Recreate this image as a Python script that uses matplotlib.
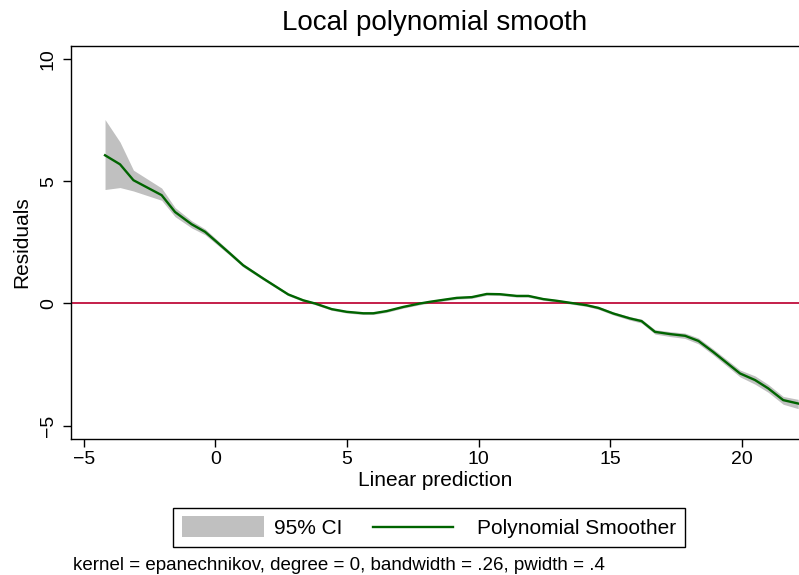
import matplotlib
matplotlib.use("Agg")
import matplotlib.pyplot as plt
from matplotlib.patches import Patch, Rectangle
from matplotlib.lines import Line2D
from matplotlib.legend_handler import HandlerPatch

# Polinom düzleştirici değerleri
x_pred = [-4.19, -3.62, -3.11, -2.04, -1.53, -0.90, -0.39, 0.05, 0.56, 1.06,
          1.82, 2.77, 3.34, 3.79, 4.42, 4.99, 5.62, 6.00, 6.51, 7.14,
          7.77, 8.15, 8.72, 9.17, 9.74, 10.31, 10.81, 11.45, 11.89, 12.46,
          12.97, 13.47, 14.10, 14.55, 15.12, 15.75, 16.19, 16.70, 17.27, 17.84,
          18.35, 18.91, 19.93, 20.50, 21.00, 21.57, 22.14]
smooth = [6.06, 5.69, 5.04, 4.43, 3.74, 3.24, 2.93, 2.52, 2.04, 1.56,
          1.02, 0.37, 0.13, 0.00, -0.23, -0.34, -0.40, -0.40, -0.31, -0.14,
          0.00, 0.07, 0.16, 0.23, 0.26, 0.39, 0.38, 0.31, 0.31, 0.18,
          0.11, 0.03, -0.07, -0.18, -0.41, -0.61, -0.72, -1.16, -1.25, -1.32,
          -1.53, -1.98, -2.86, -3.13, -3.47, -3.95, -4.09]
ci_lo = [4.66, 4.74, 4.60, 4.22, 3.55, 3.09, 2.81, 2.42, 1.96, 1.49,
         0.96, 0.32, 0.08, -0.05, -0.28, -0.39, -0.45, -0.45, -0.36, -0.19,
         -0.05, 0.02, 0.11, 0.18, 0.21, 0.34, 0.33, 0.26, 0.26, 0.13,
         0.06, -0.02, -0.12, -0.24, -0.47, -0.68, -0.80, -1.25, -1.35, -1.43,
         -1.65, -2.10, -3.00, -3.30, -3.63, -4.12, -4.30]
ci_hi = [7.52, 6.60, 5.45, 4.72, 3.92, 3.38, 3.05, 2.62, 2.12, 1.63,
         1.08, 0.42, 0.18, 0.05, -0.18, -0.29, -0.35, -0.35, -0.26, -0.09,
         0.05, 0.12, 0.21, 0.28, 0.31, 0.44, 0.43, 0.36, 0.36, 0.23,
         0.16, 0.08, -0.02, -0.12, -0.35, -0.54, -0.64, -1.07, -1.15, -1.21,
         -1.41, -1.86, -2.72, -2.96, -3.31, -3.80, -3.92]

x_ticks = [-5, 0, 5, 10, 15, 20]
y_ticks = [-5, 0, 5, 10]

CI_RENK = "#c0c0c0"
CIZGI_RENK = "#006400"
SIFIR_RENK = "#c41e4a"

plt.rcParams["font.family"] = ["Liberation Sans", "DejaVu Sans"]

W, H = 799, 575
fig = plt.figure(figsize=(W / 100, H / 100), dpi=100)
fig.patch.set_facecolor("white")

# Eksen alanı (piksel -> oran)
sol, sag, ust, alt = 70.7, 799, 45.7, 439
ax = fig.add_axes([sol / W, 1 - alt / H, (sag - sol) / W, (alt - ust) / H])

ax.fill_between(x_pred, ci_lo, ci_hi, color=CI_RENK, linewidth=0, zorder=1)
ax.axhline(0, color=SIFIR_RENK, linewidth=1.4, zorder=2)
ax.plot(x_pred, smooth, color=CIZGI_RENK, linewidth=1.7, zorder=3)

ax.set_xlim(-5.494, 22.17)
ax.set_ylim(-5.54, 10.54)
ax.set_xticks(x_ticks)
ax.set_yticks(y_ticks)
ax.tick_params(axis="both", direction="out", length=6, width=1, labelsize=14, colors="black")
ax.tick_params(axis="x", pad=3)
ax.tick_params(axis="y", pad=4)
for lbl in ax.get_yticklabels():
    lbl.set_rotation(90)
    lbl.set_va("center")

ax.spines["right"].set_visible(False)
for s in ("left", "top", "bottom"):
    ax.spines[s].set_linewidth(1)
    ax.spines[s].set_color("black")

ax.set_xlabel("Linear prediction", fontsize=15, labelpad=2)
ax.set_ylabel("Residuals", fontsize=15, labelpad=6)

fig.text(435 / W, 1 - 23 / H, "Local polynomial smooth", fontsize=20,
         ha="center", va="center")


# Lejant: çizgi biraz sola kaysın, yazıyla arası açılsın (Stata gibi)
def kisa_cizgi(legend, orig_handle, xdescent, ydescent, width, height, fontsize):
    y = height / 2 - ydescent
    return Line2D([-xdescent - 8, -xdescent + width - 10], [y, y])


def gri_kutu(legend, orig_handle, xdescent, ydescent, width, height, fontsize):
    return Rectangle((-xdescent, -ydescent - 1), width, height + 2)


ci_el = Patch(facecolor=CI_RENK, edgecolor="none")
cizgi_el = Line2D([0], [0], color=CIZGI_RENK, linewidth=1.7)
leg = fig.legend([ci_el, cizgi_el], ["95% CI", "Polynomial Smoother"], ncol=2,
                 loc="center", bbox_to_anchor=(429 / W, 1 - 527.5 / H),
                 fontsize=15, frameon=True, fancybox=False, framealpha=1,
                 edgecolor="black", handlelength=3.94, handleheight=1.0,
                 handletextpad=0.5, columnspacing=2.0, borderpad=0.43,
                 handler_map={ci_el: HandlerPatch(patch_func=gri_kutu),
                              cizgi_el: HandlerPatch(patch_func=kisa_cizgi)})
leg.get_frame().set_linewidth(1)

fig.text(73 / W, 1 - 565 / H,
         "kernel = epanechnikov, degree = 0, bandwidth = .26, pwidth = .4",
         fontsize=13.5, ha="left", va="center")

fig.savefig("out.png", dpi=100, facecolor="white")
